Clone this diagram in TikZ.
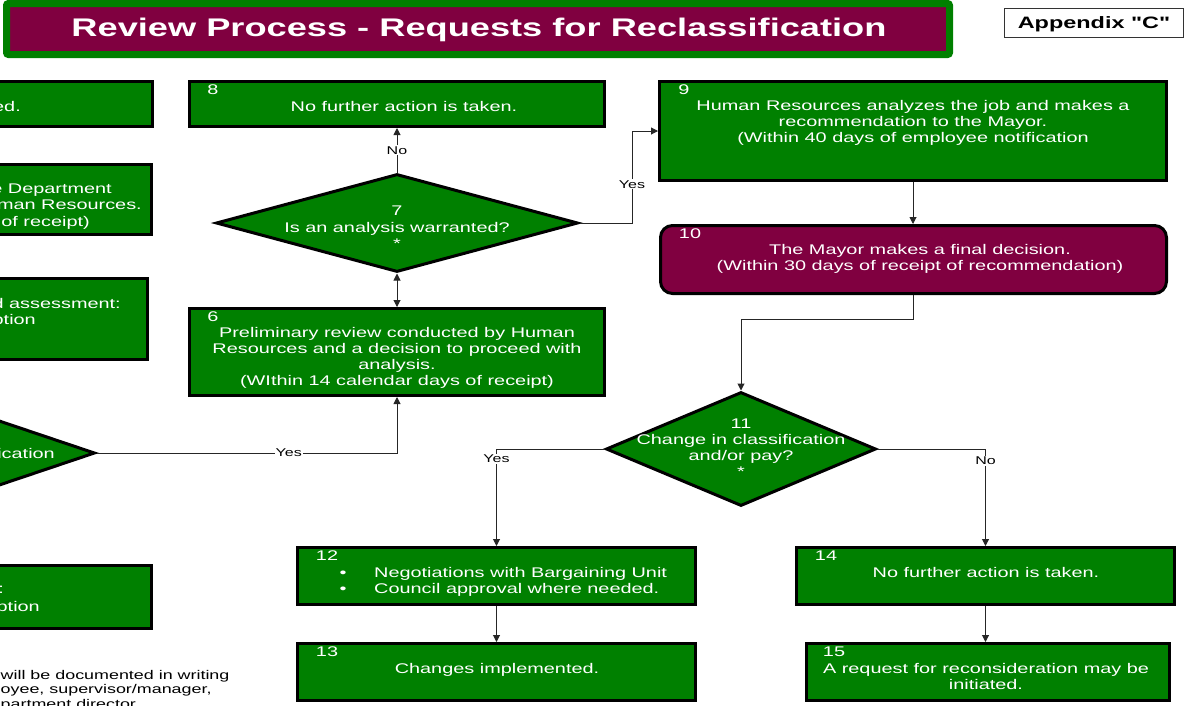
\documentclass[tikz,border=0pt]{standalone}
\usepackage{fontspec}
\newfontfamily\wf{Liberation Sans}[FakeStretch=1.42, Ligatures=TeXOff]
\usetikzlibrary{shapes.geometric,arrows.meta}
\definecolor{boxgreen}{RGB}{0,128,0}
\definecolor{maroonbox}{RGB}{128,0,64}
\tikzset{
  box/.style={draw=black, line width=3pt, fill=boxgreen, inner sep=0pt, rectangle},
  dia/.style={draw=black, line width=3pt, fill=boxgreen, diamond, inner sep=0pt},
  txt/.style={text=white, font=\wf\fontsize{14}{16}\selectfont, inner sep=0pt, align=center},
  num/.style={text=white, font=\wf\fontsize{14}{16}\selectfont, inner sep=0pt},
  lbl/.style={fill=white, text=black, font=\wf\fontsize{11.3}{12}\selectfont, inner sep=1pt},
  conn/.style={draw=black!85, line width=1pt},
  arr/.style={conn, -{Triangle[length=7pt,width=7pt]}},
  darr/.style={conn, {Triangle[length=7pt,width=7pt]}-{Triangle[length=7pt,width=7pt]}},
  foot/.style={text=black, font=\wf\fontsize{12.6}{14.5}\selectfont, inner sep=0pt, align=left}
}
\begin{document}
\begin{tikzpicture}[x=1pt,y=-1pt]
\useasboundingbox (0,0) rectangle (1186,705);
\clip (0,0) rectangle (1186,705);
% title
\node[draw=boxgreen, line width=7pt, fill=maroonbox, minimum width=943pt, minimum height=51pt, inner sep=0pt, rounded corners=2pt] (title) at (478,29) {};
\node[text=white, font=\wf\bfseries\fontsize{25.5}{28}\selectfont, inner sep=0pt] (titletext) at (479,29.5) {Review Process - Requests for Reclassification};
% appendix
\node[draw=black!80, line width=1.5pt, fill=white, minimum width=179pt, minimum height=29pt, inner sep=0pt] (app) at (1094,23) {};
\node[font=\wf\bfseries\fontsize{16.5}{18}\selectfont, inner sep=0pt] (apptext) at (1094,24) {Appendix "C"};

% left cut-off shapes
\node[box, minimum width=415pt, minimum height=45pt] (lb1) at (-55.5,104) {};
\node[txt, anchor=east] (lt1) at (21,106) {ed.};
\node[box, minimum width=415pt, minimum height=70pt] (lb2) at (-56,199.5) {};
\node[txt, anchor=east] (lt2a) at (112,190.5) {e Department};
\node[txt, anchor=east] (lt2b) at (142,205) {man Resources.};
\node[txt, anchor=east] (lt2c) at (90,222.5) {of receipt)};
\node[box, minimum width=415pt, minimum height=81pt] (lb3) at (-60,319) {};
\node[txt, anchor=east] (lt3a) at (121,303) {d assessment:};
\node[txt, anchor=east] (lt3b) at (36,320.5) {ption};
\node[dia, minimum width=360pt, minimum height=122pt] (ld) at (-85,453) {};
\node[txt, anchor=east] (ldt) at (55,453) {ication};
\node[box, minimum width=415pt, minimum height=63pt] (lb4) at (-56,597) {};
\node[txt, anchor=east] (lt4a) at (4,590) {:};
\node[txt, anchor=east] (lt4b) at (40,607.5) {ption};
\node[foot, anchor=north west] (fn) at (0.5,670) {will be documented in writing\\oyee, supervisor/manager,\\partment director};

% box 8
\node[box, minimum width=415pt, minimum height=45pt] (b8) at (397,104) {};
\node[num] (n8) at (213,90) {8};
\node[txt] (t8) at (404,106) {No further action is taken.};
% box 6
\node[box, minimum width=415pt, minimum height=87pt] (b6) at (397,352) {};
\node[num] (n6) at (213,317) {6};
\node[txt] (t6) at (397,358) {Preliminary review conducted by Human\\Resources and a decision to proceed with\\analysis.\\(WIthin 14 calendar days of receipt)};
% diamond 7
\node[dia, minimum width=362pt, minimum height=98pt] (d7) at (397,223) {};
\node[txt, font=\wf\fontsize{14}{16.5}\selectfont] (t7) at (397,227.5) {7\\Is an analysis warranted?\\*};
% box 9
\node[box, minimum width=507pt, minimum height=99pt] (b9) at (913,131) {};
\node[num] (n9) at (684,90) {9};
\node[txt] (t9) at (913,122.5) {Human Resources analyzes the job and makes a\\recommendation to the Mayor.\\(Within 40 days of employee notification};
% box 10
\node[box, fill=maroonbox, rounded corners=12pt, minimum width=506pt, minimum height=68pt] (b10) at (913.5,259.5) {};
\node[num] (n10) at (690,234) {10};
\node[txt] (t10) at (920,258.5) {The Mayor makes a final decision.\\(Within 30 days of receipt of recommendation)};
% diamond 11
\node[dia, minimum width=270pt, minimum height=114pt] (d11) at (741,449) {};
\node[txt] (t11) at (741,448) {11\\Change in classification\\and/or pay?\\*};
% box 12
\node[box, minimum width=398pt, minimum height=57pt] (b12) at (496.5,576) {};
\node[num] (n12) at (327,556) {12};
\node[txt, align=left, anchor=west] (t12) at (339.5,581.5) {\makebox[34.5pt][l]{•}Negotiations with Bargaining Unit\\\makebox[34.5pt][l]{•}Council approval where needed.};
% box 13
\node[box, minimum width=398pt, minimum height=57pt] (b13) at (496.5,672) {};
\node[num] (n13) at (327,652) {13};
\node[txt] (t13) at (497,669.5) {Changes implemented.};
% box 14
\node[box, minimum width=378pt, minimum height=57pt] (b14) at (985.5,576) {};
\node[num] (n14) at (826,556) {14};
\node[txt] (t14) at (986,572) {No further action is taken.};
% box 15
\node[box, minimum width=363pt, minimum height=57pt] (b15) at (988,672) {};
\node[num] (n15) at (834,652) {15};
\node[txt] (t15) at (986,676) {A request for reconsideration may be\\initiated.};

% connectors
\coordinate (j7) at (632,223);
\draw[arr] (d7.north) -- node[lbl]{No} (b8.south);
\draw[darr] (d7.south) -- (b6.north);
\draw[arr] (d7.east) -- (j7) |- node[lbl, pos=0.21]{Yes} (b9.west);
\draw[arr] (b9.south) -- (b9.south |- b10.north);
\draw[arr] (b10.south) -- ++(0,24) -| (d11.north);
\draw[arr] (d11.west) -| node[lbl, pos=0.55]{Yes} (b12.north);
\draw[arr] (d11.east) -| node[lbl, pos=0.56]{No} (b14.north);
\draw[arr] (b12.south) -- (b13.north);
\draw[arr] (b14.south) -- (b14.south |- b15.north);
\draw[arr] (ld.east) -| node[lbl, pos=0.32]{Yes} (b6.south);
\end{tikzpicture}
\end{document}
